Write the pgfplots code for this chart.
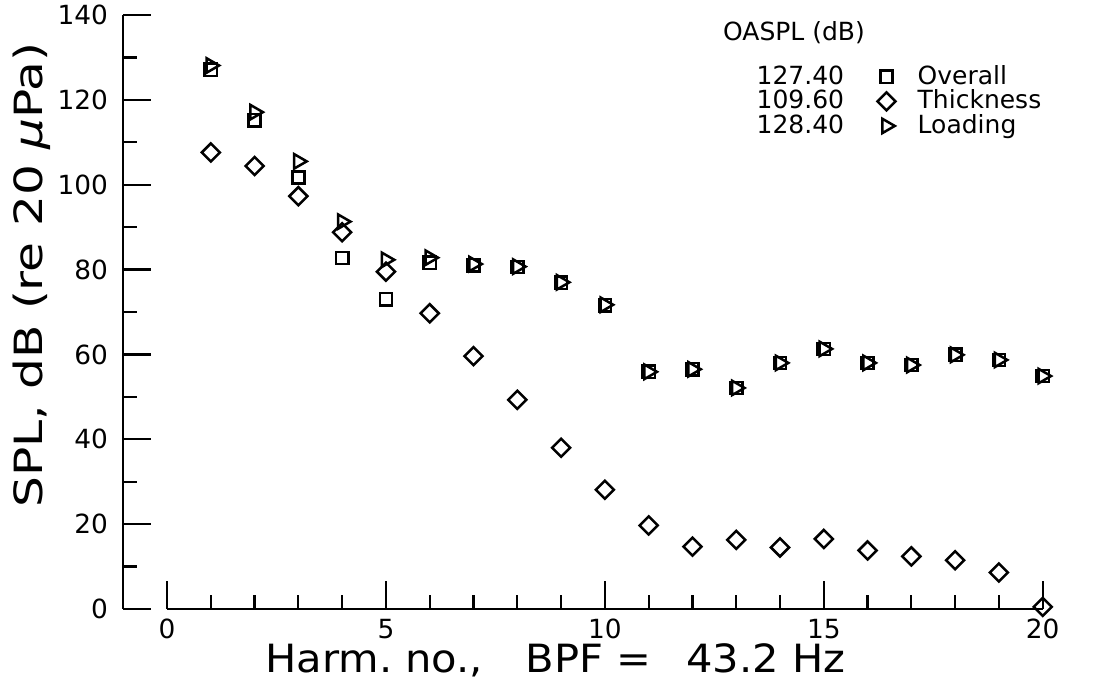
\documentclass[border=0pt]{standalone}
\usepackage{fontspec}
\setmainfont{DejaVu Sans}
\newfontfamily\xlabelfont[FakeStretch=1.07]{DejaVu Sans}
\newfontfamily\ylabelfont[FakeStretch=1.25]{DejaVu Sans}
\usepackage{pgfplots}
\pgfplotsset{compat=1.18}

% harmonic no. / SPL in dB
\pgfplotstableread{
h spl
1 127.1
2 115.2
3 101.7
4 82.7
5 73.0
6 81.6
7 81.0
8 80.6
9 76.9
10 71.6
11 55.9
12 56.5
13 52.1
14 58.0
15 61.3
16 58.0
17 57.5
18 59.9
19 58.7
20 54.9
}\overall
\pgfplotstableread{
h spl
1 107.6
2 104.4
3 97.3
4 88.8
5 79.5
6 69.7
7 59.6
8 49.3
9 38.0
10 28.1
11 19.7
12 14.7
13 16.3
14 14.5
15 16.5
16 13.8
17 12.4
18 11.5
19 8.6
20 0.5
}\thickness
\pgfplotstableread{
h spl
1 128.1
2 117.1
3 105.5
4 91.3
5 82.3
6 82.8
7 81.3
8 80.7
9 77.0
10 71.7
11 55.9
12 56.5
13 52.1
14 58.0
15 61.3
16 58.0
17 57.5
18 59.9
19 58.7
20 54.9
}\loading

\begin{document}
\begin{tikzpicture}
\path[use as bounding box] (-44.37pt,-28.8pt) rectangle (353.79pt,219.24pt);
\begin{axis}[
    scale only axis,
    width=331pt, height=213.84pt,
    xmin=-1, xmax=20, ymin=0, ymax=140,
    axis x line=bottom, axis y line=left,
    axis line style={-, line width=0.8pt},
    x axis line style={shorten <=15.762pt},
    tick align=inside,
    tick style={black, line width=0.8pt},
    major tick length=10pt, minor tick length=5pt,
    xtick={0,5,...,20}, minor x tick num=4,
    ytick={0,20,...,140}, minor y tick num=1,
    /pgf/number format/assume math mode=true,
    ticklabel style={font=\fontsize{9.5}{11}\selectfont},
    yticklabel style={xshift=-2pt},
    clip=false,
    xlabel={Harm.\ no.,\hspace{1.1em}BPF =\hspace{0.9em}43.2 Hz},
    ylabel={SPL, dB (re 20 \textit{μ}Pa)},
    xlabel style={font=\xlabelfont\fontsize{14}{16}\selectfont,
        at={(axis description cs:0.47,-0.086)}, anchor=center},
    ylabel style={font=\ylabelfont\fontsize{14}{16}\selectfont,
        at={(axis description cs:-0.099,0.562)}, anchor=center},
    every axis plot/.append style={only marks, black, line width=0.9pt, mark options={solid}},
    legend columns=2,
    legend cell align=left,
    legend style={draw=none, fill=none, font=\fontsize{9}{10}\selectfont,
        at={(axis description cs:0.655,0.935)}, anchor=north west,
        row sep=-3.5pt,
        /tikz/every odd column/.append style={column sep=6pt},
        /tikz/every even column/.append style={column sep=10pt}},
]
\addlegendimage{empty legend}\addlegendentry{127.40}
\addplot[mark=square, mark size=2.2pt] table[x=h, y=spl] {\overall};
\addlegendentry{Overall}
\addlegendimage{empty legend}\addlegendentry{109.60}
\addplot[mark=square, mark size=2.3pt, mark options={rotate=45}] table[x=h, y=spl] {\thickness};
\addlegendentry{Thickness}
\addlegendimage{empty legend}\addlegendentry{128.40}
\addplot[mark=triangle, mark size=3pt, mark options={rotate=-90}] table[x=h, y=spl] {\loading};
\addlegendentry{Loading}
\node[font=\fontsize{9}{10}\selectfont, anchor=center] at (axis description cs:0.7295,0.97) {OASPL (dB)};
\end{axis}
\end{tikzpicture}
\end{document}
